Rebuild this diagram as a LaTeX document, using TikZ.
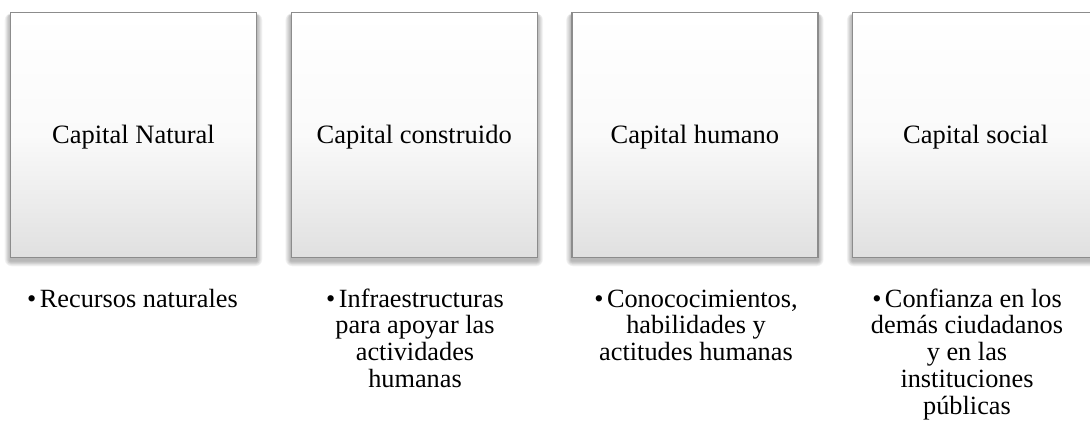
\documentclass[tikz,border=0pt]{standalone}
\usepackage{fontspec}
\setmainfont{Liberation Serif}
\definecolor{boxborder}{RGB}{140,140,140}
\definecolor{boxbottom}{RGB}{224,224,224}
\definecolor{boxmid}{RGB}{250,250,250}
\tikzset{
  capbox/.style={draw=boxborder, line width=1.3pt, top color=white, bottom color=boxbottom, middle color=boxmid, minimum width=246pt, minimum height=245pt, inner sep=0pt},
  captitle/.style={font=\fontsize{26.5}{30}\selectfont, inner sep=0pt, anchor=base},
  captext/.style={font=\fontsize{26.3}{26.8}\selectfont, inner sep=0pt, anchor=north, align=center},
}
\newcommand{\softshadow}[2]{%
  \foreach \k in {1,...,7}{%
    \fill[black, opacity=0.045, rounded corners=\k pt]
      ([xshift=-\k*0.8pt, yshift=-3pt-\k*0.8pt]#1.south west) rectangle ([xshift=\k*0.8pt, yshift=-3pt+\k*0.3pt]#2.north east);
  }%
}
\newcommand{\bul}{\textbullet\hspace{3.5pt}}
\begin{document}
\begin{tikzpicture}[x=1pt,y=-1pt]
\useasboundingbox (0,0) rectangle (1090,421);
\fill[white] (0,0) rectangle (1090,421);
\foreach \i/\cx in {1/133.5, 2/414.2, 3/694.9, 4/975.6}{
  \coordinate (s\i) at (\cx,135);
}
\begin{scope}
\clip (0,0) rectangle (1090,421);
\foreach \i in {1,2,3,4}{
  \path (s\i) node[minimum width=246pt, minimum height=245pt, inner sep=0pt] (g\i) {};
  \softshadow{g\i}{g\i}
}
\foreach \i in {1,2,3,4}{
  \node[capbox] (b\i) at (s\i) {};
}
\end{scope}
\node[captitle] (t1) at (133.5,143.3) {Capital Natural};
\node[captitle] (t2) at (414.2,143.3) {Capital construido};
\node[captitle] (t3) at (694.9,143.3) {Capital humano};
\node[captitle] (t4) at (975.6,143.3) {Capital social};
\node[captext] (d1) at (132.5,288.2) {\strut\bul Recursos naturales};
\node[captext] (d2) at (415,288.2) {\strut\bul Infraestructuras\\para apoyar las\\actividades\\humanas};
\node[captext] (d3) at (696,288.2) {\strut\bul Conococimientos,\\habilidades y\\actitudes humanas};
\node[captext] (d4) at (967,288.2) {\strut\bul Confianza en los\\demás ciudadanos\\y en las\\instituciones\\públicas};
\end{tikzpicture}
\end{document}
